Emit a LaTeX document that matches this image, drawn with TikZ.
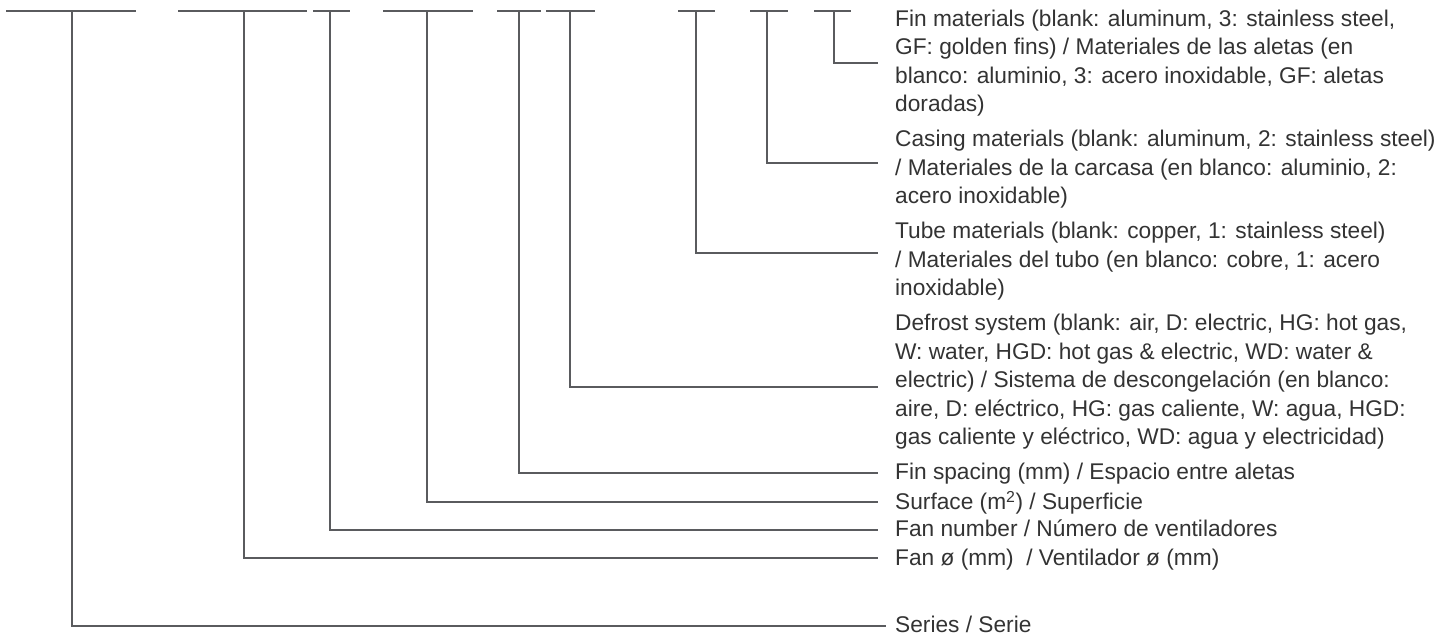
\documentclass[tikz,border=0pt]{standalone}
\usepackage{fontspec}
\setmainfont{Liberation Sans}
\definecolor{linec}{HTML}{5A5B5E}
\definecolor{txtc}{HTML}{333333}
\newcommand{\topstrut}{\rule{0pt}{17pt}}
\tikzset{
  conn/.style={draw=linec, line width=2.4pt},
  lbl/.style={anchor=north west, align=left, inner sep=0pt, text=txtc,
              font=\fontsize{22.7}{28.5}\selectfont}
}
\begin{document}
\begin{tikzpicture}[x=1pt,y=-1pt]
\useasboundingbox (0,0) rectangle (1454,637);
% text nodes (first baseline = y + 17)
\node[lbl] (tfin) at (895,9) {\topstrut Fin materials (blank: aluminum, 3: stainless steel,\\GF: golden fins) / Materiales de las aletas (en\\blanco: aluminio, 3: acero inoxidable, GF: aletas\\doradas)};
\node[lbl] (tcas) at (895,129.5) {\topstrut Casing materials (blank: aluminum, 2: stainless steel)\\/ Materiales de la carcasa (en blanco: aluminio, 2:\\acero inoxidable)};
\node[lbl] (ttub) at (895,221.5) {\topstrut Tube materials (blank: copper, 1: stainless steel)\\/ Materiales del tubo (en blanco: cobre, 1: acero\\inoxidable)};
\node[lbl] (tdef) at (895,313.5) {\topstrut Defrost system (blank: air, D: electric, HG: hot gas,\\W: water, HGD: hot gas \& electric, WD: water \&\\electric) / Sistema de descongelación (en blanco:\\aire, D: eléctrico, HG: gas caliente, W: agua, HGD:\\gas caliente y eléctrico, WD: agua y electricidad)};
\node[lbl] (tspa) at (895,462.5) {\topstrut Fin spacing (mm) / Espacio entre aletas};
\node[lbl] (tsur) at (895,491) {\topstrut Surface (m\textsuperscript{2}) / Superficie};
\node[lbl] (tnum) at (895,519.5) {\topstrut Fan number / Número de ventiladores};
\node[lbl] (tdia) at (895,548) {\topstrut Fan ø (mm)\ \ / Ventilador ø (mm)};
\node[lbl] (tser) at (895,615) {\topstrut Series / Serie};
% top bars
\draw[conn] (6,11) -- (136,11);
\draw[conn] (178,11) -- (307,11);
\draw[conn] (313,11) -- (350,11);
\draw[conn] (383,11) -- (473,11);
\draw[conn] (497,11) -- (541,11);
\draw[conn] (546,11) -- (595,11);
\draw[conn] (678,11) -- (715,11);
\draw[conn] (750,11) -- (788,11);
\draw[conn] (814,11) -- (851,11);
% connector start points
\coordinate (vser) at (72,11);
\coordinate (vdia) at (244,11);
\coordinate (vnum) at (330,11);
\coordinate (vsur) at (427,11);
\coordinate (vspa) at (519,11);
\coordinate (vdef) at (570,11);
\coordinate (vtub) at (696,11);
\coordinate (vcas) at (767,11);
\coordinate (vfin) at (834,11);
% connector end points
\coordinate (eser) at (886,626);
\coordinate (edia) at (878,558);
\coordinate (enum) at (878,530);
\coordinate (esur) at (878,502);
\coordinate (espa) at (878,473);
\coordinate (edef) at (878,387);
\coordinate (etub) at (878,253);
\coordinate (ecas) at (878,163);
\coordinate (efin) at (878,63);
\foreach \n in {ser,dia,num,sur,spa,def,tub,cas,fin}
  \draw[conn] (v\n) |- (e\n);
\end{tikzpicture}
\end{document}
